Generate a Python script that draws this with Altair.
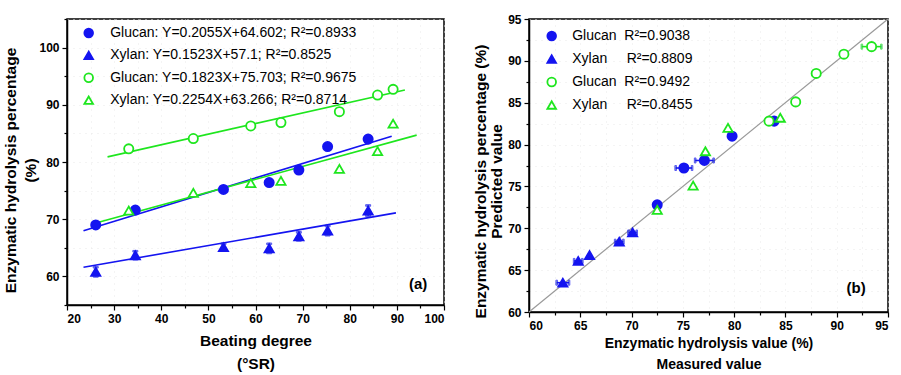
import altair as alt
import pandas as pd

FONT = "Liberation Sans"
BLUE = "#1414f0"
GREEN = "#1ee61e"
NB = "\u00a0"

# ---------------- Panel (a) data ----------------
a_series = [
    "Glucan: Y=0.2055X+64.602; R²=0.8933",
    "Xylan: Y=0.1523X+57.1; R²=0.8525",
    "Glucan: Y=0.1823X+75.703; R²=0.9675",
    "Xylan: Y=0.2254X+63.266; R²=0.8714",
]
a_x_blue = [26.1, 34.5, 53.2, 62.9, 69.2, 75.3, 83.9]
a_glucan_blue = [69.0, 71.6, 75.2, 76.4, 78.6, 82.7, 84.0]
a_xylan_blue = [60.8, 63.7, 65.1, 64.9, 67.0, 68.0, 71.5]
a_xylan_blue_err = [0.8, 0.7, 0.6, 0.8, 0.7, 0.8, 0.9]
a_x_green = [33.1, 46.8, 59.0, 65.4, 77.8, 85.9, 89.2]
a_glucan_green = [82.3, 84.1, 86.3, 86.9, 88.8, 91.7, 92.7]
a_xylan_green = [71.5, 74.6, 76.3, 76.7, 78.8, 81.9, 86.7]

# fitted lines as drawn (start, end)
a_line_x = [[23.5, 88.9], [23.5, 89.8], [28.6, 91.7], [26.9, 94.2]]
a_line_y = [[68.0, 84.5], [61.6, 71.1], [80.9, 92.6], [69.5, 84.7]]

a_xticks = [20, 25, 30, 35, 40, 45, 50, 55, 60, 65, 70, 75, 80, 85, 90, 95, 100]
a_yticks = [55, 60, 65, 70, 75, 80, 85, 90, 95, 100, 105]
a_tag = ["(a)"]
a_tag_x = [94.5]
a_tag_y = [58.7]

# ---------------- Panel (b) data ----------------
b_series = [
    "Glucan" + NB + NB + "R²=0.9038",
    "Xylan" + NB * 5 + "R²=0.8809",
    "Glucan" + NB + NB + "R²=0.9492",
    "Xylan" + NB * 5 + "R²=0.8455",
]
b_glucan_blue_x = [72.5, 75.1, 77.1, 79.8, 83.9]
b_glucan_blue_y = [72.8, 77.2, 78.1, 81.0, 82.8]
b_glucan_blue_err = [0.0, 0.8, 0.9, 0.0, 0.0]
b_xylan_blue_x = [63.3, 64.8, 65.9, 68.8, 70.1]
b_xylan_blue_y = [63.5, 66.1, 66.8, 68.4, 69.5]
b_xylan_blue_err = [0.6, 0.4, 0.0, 0.4, 0.4]
b_glucan_green_x = [83.4, 86.0, 88.0, 90.7, 93.4]
b_glucan_green_y = [82.8, 85.1, 88.5, 90.8, 91.7]
b_glucan_green_err = [0.0, 0.0, 0.0, 0.0, 0.95]
b_xylan_green_x = [72.5, 76.0, 77.2, 79.4, 84.5]
b_xylan_green_y = [72.2, 75.1, 79.2, 82.0, 83.2]
b_xylan_green_err = [0.0, 0.0, 0.0, 0.0, 0.0]
b_diag_x = [60, 95]
b_diag_y = [60, 95]
b_ticks = [60, 62.5, 65, 67.5, 70, 72.5, 75, 77.5, 80, 82.5, 85, 87.5, 90, 92.5, 95]
b_tag = ["(b)"]
b_tag_x = [91.9]
b_tag_y = [62.9]


# ---------------- build tables ----------------
def long(xs_list, ys_list, series, errs=None):
    frames = []
    for i, (xv, yv) in enumerate(zip(xs_list, ys_list)):
        df = pd.DataFrame({"x": xv, "y": yv, "s": series[i], "k": i})
        df["e"] = errs[i] if errs is not None else 0.0
        frames.append(df)
    return pd.concat(frames, ignore_index=True)


a_pts = long([a_x_blue, a_x_blue, a_x_green, a_x_green],
             [a_glucan_blue, a_xylan_blue, a_glucan_green, a_xylan_green], a_series)
a_err = long([a_x_blue], [a_xylan_blue], [a_series[1]], [a_xylan_blue_err])
a_err["k"] = 1
a_err["lo"] = a_err["y"] - a_err["e"]
a_err["hi"] = a_err["y"] + a_err["e"]
a_lines = long(a_line_x, a_line_y, a_series)

b_pts = long([b_glucan_blue_x, b_xylan_blue_x, b_glucan_green_x, b_xylan_green_x],
             [b_glucan_blue_y, b_xylan_blue_y, b_glucan_green_y, b_xylan_green_y], b_series,
             [b_glucan_blue_err, b_xylan_blue_err, b_glucan_green_err, b_xylan_green_err])
b_err = b_pts[b_pts["e"] > 0].copy()
b_err["lo"] = b_err["x"] - b_err["e"]
b_err["hi"] = b_err["x"] + b_err["e"]
b_diag = pd.DataFrame({"x": b_diag_x, "y": b_diag_y})

colors = [BLUE, BLUE, GREEN, GREEN]
shapes = ["circle", "triangle-up", "circle", "triangle-up"]
fills = [BLUE, BLUE, "white", "white"]


def axis(values, major, title, title_pad, title_size, line_h, title_y=None):
    kw = {}
    if title_y is not None:
        kw["titleY"] = title_y
    return alt.Axis(
        values=values,
        labelExpr=f"datum.value % {major} === 0 ? datum.label : ''",
        tickSize={"condition": {"test": f"datum.value % {major} === 0", "value": 5}, "value": 3},
        labelOverlap=False,
        labelPadding=3,
        title=title,
        titlePadding=title_pad,
        titleFontSize=title_size,
        titleLineHeight=line_h,
        grid=True,
        **kw,
    )


def legend(x, y, row_pad, offset):
    return alt.Legend(
        orient="none", legendX=x, legendY=y, title=None, padding=0,
        labelFontSize=14, labelFont=FONT, labelColor="black", labelLimit=500,
        symbolSize=75, symbolStrokeWidth=1.8, rowPadding=row_pad, labelOffset=offset,
    )


def build_panel(pts, line_df, line_kwargs, line_by_series, err_df, horizontal, series,
                xdom, ydom, xaxis, yaxis, tagdf, leg, w, h):
    xs = alt.Scale(domain=xdom, nice=False, zero=False)
    ys = alt.Scale(domain=ydom, nice=False, zero=False)
    ks = alt.Scale(domain=[0, 1, 2, 3], range=colors)
    X = lambda f: alt.X(f, scale=xs, axis=xaxis)
    Y = lambda f: alt.Y(f, scale=ys, axis=yaxis)

    enc = dict(x=X("x:Q"), y=Y("y:Q"))
    if line_by_series:
        enc["stroke"] = alt.Stroke("k:O", scale=ks, legend=None)
        enc["detail"] = "k:O"
    line_layer = alt.Chart(line_df).mark_line(**line_kwargs).encode(**enc)

    if horizontal:
        err_enc = dict(x=X("lo:Q"), x2="hi:Q", y=Y("y:Q"))
    else:
        err_enc = dict(y=Y("lo:Q"), y2="hi:Q", x=X("x:Q"))
    err_layer = alt.Chart(err_df).mark_errorbar(ticks=True, thickness=1.6).encode(
        stroke=alt.Stroke("k:O", scale=ks, legend=None), **err_enc)

    pts_layer = alt.Chart(pts).mark_point(strokeWidth=1.8, size=85, opacity=1).encode(
        x=X("x:Q"), y=Y("y:Q"),
        color=alt.Color("s:N", scale=alt.Scale(domain=series, range=colors), legend=leg),
        fill=alt.Fill("s:N", scale=alt.Scale(domain=series, range=fills), legend=leg),
        shape=alt.Shape("s:N", scale=alt.Scale(domain=series, range=shapes), legend=leg),
    )
    tag = alt.Chart(tagdf).mark_text(font=FONT, fontSize=15, fontWeight="bold", color="black").encode(
        x=X("x:Q"), y=Y("y:Q"), text="t:N")
    return alt.layer(line_layer, err_layer, pts_layer, tag).properties(width=w, height=h)


chart_a = build_panel(
    a_pts, a_lines, dict(strokeWidth=1.6), True, a_err, False, a_series,
    [20, 100], [55, 105],
    axis(a_xticks, 10, ["Beating degree", "(°SR)"], 9, 15.5, 23),
    axis(a_yticks, 10, ["Enzymatic hydrolysis percentage", "(%)"], 0, 15.5, 20, 151),
    pd.DataFrame({"x": a_tag_x, "y": a_tag_y, "t": a_tag}),
    legend(14.7, 7, 6.4, 14.5), 377, 286)

chart_b = build_panel(
    b_pts, b_diag, dict(strokeWidth=1.2, color="#999999"), False, b_err, True, b_series,
    [60, 95], [60, 95],
    axis(b_ticks, 5, ["Enzymatic hydrolysis value (%)", "Measured value"], 5, 14, 21),
    axis(b_ticks, 5, ["Enzymatic hydrolysis percentage (%)", "Predicted value"], 3, 15.5, 16, 162),
    pd.DataFrame({"x": b_tag_x, "y": b_tag_y, "t": b_tag}),
    legend(15.7, 10, 7, 13.5), 359, 293)

chart = alt.hconcat(chart_a, chart_b, spacing=85, bounds="flush").resolve_scale(
    color="independent", fill="independent", shape="independent", stroke="independent"
).properties(
    padding={"left": 3, "top": 12, "right": 0, "bottom": 0},
    background="white",
).configure_view(
    stroke="black", strokeWidth=1.5
).configure_axis(
    labelFont=FONT, labelFontSize=12, labelFontWeight="bold", labelColor="black",
    titleFont=FONT, titleFontWeight="bold", titleColor="black",
    domainColor="black", domainWidth=1.5, tickColor="black", tickWidth=1.2,
    gridColor="#e8e8e8", gridDash=[1, 5], gridWidth=1,
)

chart.save("out.html", embed_options={"renderer": "svg", "actions": False})
